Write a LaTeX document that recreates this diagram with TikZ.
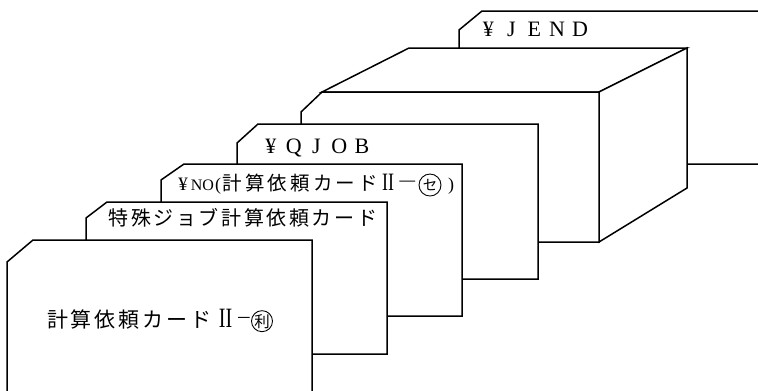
\documentclass[tikz,border=0pt]{standalone}
\usepackage{graphicx}
\usepackage{fontspec}
\setmainfont{Noto Sans CJK JP}
\newfontfamily\lat{Liberation Serif}
\newcommand\cbox[2]{\makebox[#1pt]{#2}}
\newcommand\circch[3]{\tikz[baseline=(cc.base)]{\node[inner sep=0pt,outer sep=0pt](cc){\fontsize{#2}{#2}\selectfont #1};\draw[line width=0.9pt](cc.center) circle (#3pt);}}
\newcommand\romII[1]{{\lat\scalebox{0.72}[1]{\fontsize{#1}{#1}\selectfont II}}}
\begin{document}
\begin{tikzpicture}[x=1pt,y=-1pt,
  card/.style={draw,fill=white,line width=1.5pt,line join=miter},
  lbl/.style={anchor=base west,inner sep=0pt,outer sep=0pt}]
\useasboundingbox (0,0) rectangle (758,391);
\clip (0,0) rectangle (758,391);
% back card (JEND)
\draw[card] (482,11) -- (775,11) -- (775,164) -- (459,164) -- (459,30) -- cycle;
% box
\draw[card] (322,92) -- (409,48) -- (687,48) -- (599,92) -- cycle;
\draw[card] (599,92) -- (687,48) -- (687,188) -- (599,242) -- cycle;
\draw[card] (322,92) -- (599,92) -- (599,242) -- (301,242) -- (301,112) -- cycle;
% QJOB card
\draw[card] (258,124) -- (538,124) -- (538,279) -- (237,279) -- (237,143) -- cycle;
% NO card
\draw[card] (184,164) -- (462,164) -- (462,316) -- (161,316) -- (161,180) -- cycle;
% special job card
\draw[card] (107,202) -- (387,202) -- (387,354) -- (86,354) -- (86,218) -- cycle;
% front card
\draw[card] (33,240) -- (312,240) -- (312,405) -- (7,405) -- (7,262) -- cycle;

% labels
\node[lbl] (tjend) at (477,36.3) {\lat\fontsize{22}{22}\selectfont
  \cbox{22.9}{¥}\cbox{22.9}{J}\cbox{22.9}{E}\cbox{22.9}{N}\cbox{22.9}{D}};
\node[lbl] (tqjob) at (259.6,153.3) {\lat\fontsize{22}{22}\selectfont
  \cbox{22.75}{¥}\cbox{22.75}{Q}\cbox{22.75}{J}\cbox{22.75}{O}\cbox{22.75}{B}};
\node[lbl] (tno) at (176,190.5) {\fontsize{19.5}{19.5}\selectfont
  \cbox{14}{\lat\fontsize{19}{19}\selectfont ¥}\cbox{25}{\lat\fontsize{16}{16}\selectfont NO}\cbox{6.2}{\lat\fontsize{18}{18}\selectfont (}%
  \cbox{22.6}{計}\cbox{22.6}{算}\cbox{22.6}{依}\cbox{22.6}{頼}\cbox{22.6}{カ}\cbox{22.6}{ー}\cbox{22.6}{ド}%
  \cbox{17.6}{\romII{25}}\cbox{21}{\scalebox{0.95}[1.2]{―}}\cbox{24}{\circch{セ}{14.5}{11}}\cbox{18}{\lat\fontsize{18}{18}\selectfont )}};
\node[lbl] (tsp) at (107.2,225.8) {\fontsize{20}{20}\selectfont
  \cbox{22.6}{特}\cbox{22.6}{殊}\cbox{22.6}{ジ}\cbox{22.6}{ョ}\cbox{22.6}{ブ}\cbox{22.6}{計}%
  \cbox{22.6}{算}\cbox{22.6}{依}\cbox{22.6}{頼}\cbox{22.6}{カ}\cbox{22.6}{ー}\cbox{22.6}{ド}};
\node[lbl] (tfront) at (45.5,327) {\fontsize{21}{21}\selectfont
  \cbox{24}{計}\cbox{24}{算}\cbox{24}{依}\cbox{24}{頼}\cbox{24}{カ}\cbox{24}{ー}\cbox{24}{ド}%
  \cbox{24}{\romII{28}}\cbox{14}{\scalebox{0.65}[1.2]{―}}\cbox{21}{\circch{利}{15.5}{10.5}}};
\end{tikzpicture}
\end{document}
